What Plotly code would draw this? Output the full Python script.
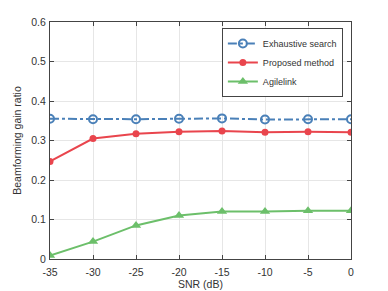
import plotly.graph_objects as go

snr = [-35, -30, -25, -20, -15, -10, -5, 0]
exhaustive = [0.355, 0.354, 0.354, 0.355, 0.356, 0.353, 0.354, 0.354]
proposed = [0.247, 0.305, 0.317, 0.322, 0.324, 0.321, 0.322, 0.321]
agilelink = [0.009, 0.044, 0.085, 0.110, 0.120, 0.120, 0.122, 0.122]

fig = go.Figure()
fig.add_trace(go.Scatter(x=snr, y=exhaustive, name="Exhaustive search", mode="lines+markers",
                         line=dict(color="#4a80b8", width=2, dash="dashdot"),
                         marker=dict(symbol="circle-open", size=8, color="#4a80b8", line=dict(width=2))))
fig.add_trace(go.Scatter(x=snr, y=proposed, name="Proposed method", mode="lines+markers",
                         line=dict(color="#e9454d", width=2),
                         marker=dict(symbol="circle", size=7, color="#e9454d")))
fig.add_trace(go.Scatter(x=snr, y=agilelink, name="Agilelink", mode="lines+markers",
                         line=dict(color="#6cbf6a", width=2),
                         marker=dict(symbol="triangle-up", size=9, color="#6cbf6a")))

axis_common = dict(showline=True, linecolor="#444444", linewidth=1, mirror="ticks",
                   ticks="inside", ticklen=4, tickcolor="#444444",
                   showgrid=True, gridcolor="#e6e6e6", zeroline=False,
                   tickfont=dict(family="Liberation Sans, Arial", size=10.5, color="#333333"))

fig.update_layout(
    width=388, height=291,
    margin=dict(l=42, r=45, t=14, b=40, autoexpand=False),
    paper_bgcolor="white", plot_bgcolor="white",
    font=dict(family="Liberation Sans, Arial", size=10.5, color="#333333"),
    xaxis=dict(range=[-35, 0], tickvals=snr, ticktext=[str(v) for v in snr],
               ticklabelstandoff=3,
               title=dict(text="SNR (dB)", standoff=3, font=dict(size=10.5)), **axis_common),
    yaxis=dict(range=[0, 0.6], tickvals=[0, 0.1, 0.2, 0.3, 0.4, 0.5, 0.6],
               ticktext=["0", "0.1", "0.2", "0.3", "0.4", "0.5", "0.6"],
               ticklabelstandoff=1,
               title=dict(text="Beamforming gain ratio", standoff=7, font=dict(size=10.5)), **axis_common),
    legend=dict(x=0.973, y=0.975, xanchor="right", yanchor="top",
                bgcolor="white", bordercolor="#444444", borderwidth=1,
                font=dict(size=9), tracegroupgap=0, itemwidth=30),
    showlegend=True,
)

fig.write_html("out.html")
